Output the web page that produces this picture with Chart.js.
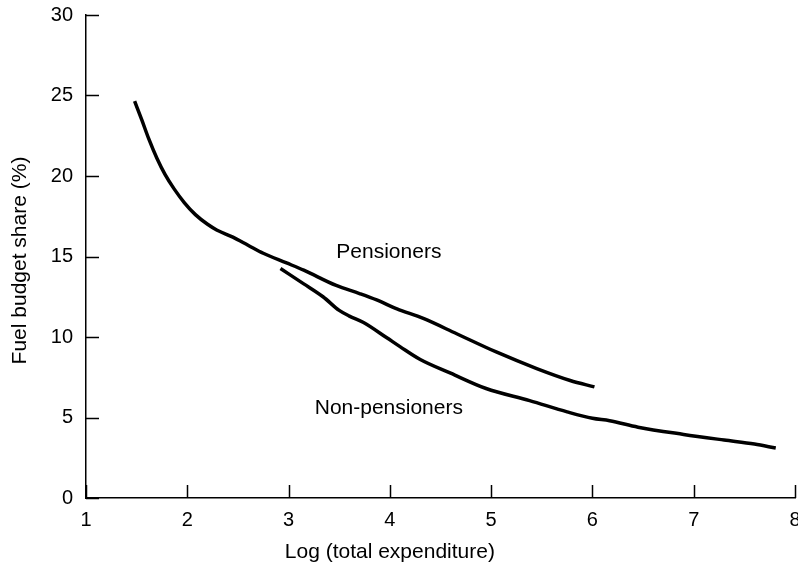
<!DOCTYPE html>
<html>
<head>
<meta charset="utf-8">
<script src="https://cdn.jsdelivr.net/npm/chart.js@4/dist/chart.umd.min.js"></script>
<style>
  html, body { margin: 0; padding: 0; background: #fff; overflow: hidden; }
  #wrap { position: relative; width: 798px; height: 566px; }
</style>
</head>
<body>
<div id="wrap"><canvas id="chart"></canvas></div>
<script>
// Fuel budget share (%) against log of total expenditure
const pensionerX = [1.48, 1.55, 1.62, 1.7, 1.78, 1.87, 1.97, 2.08, 2.2, 2.29, 2.45, 2.6, 2.75, 2.98, 3.15, 3.47, 3.7, 3.87, 4.07, 4.33, 4.66, 5.05, 5.45, 5.78, 6.02];
const pensionerY = [24.65, 23.5, 22.3, 21.1, 20.1, 19.2, 18.35, 17.6, 17.0, 16.65, 16.2, 15.7, 15.2, 14.6, 14.15, 13.2, 12.7, 12.3, 11.75, 11.15, 10.2, 9.07, 8.04, 7.3, 6.9];

const nonPensionerX = [2.92, 3.15, 3.34, 3.5, 3.6, 3.74, 3.97, 4.1, 4.3, 4.6, 4.95, 5.38, 5.75, 6.0, 6.17, 6.45, 6.9, 7.3, 7.6, 7.81];
const nonPensionerY = [14.25, 13.3, 12.5, 11.65, 11.3, 10.9, 9.95, 9.4, 8.6, 7.75, 6.8, 6.05, 5.35, 4.95, 4.8, 4.4, 3.95, 3.6, 3.35, 3.1];

const xTicks = [1, 2, 3, 4, 5, 6, 7, 8];
const yTicks = [0, 5, 10, 15, 20, 25, 30];

const xTitle = 'Log (total expenditure)';
const yTitle = 'Fuel budget share (%)';
const curveLabels = [
  { text: 'Pensioners', x: 3.99, y: 15.25 },
  { text: 'Non-pensioners', x: 3.99, y: 5.55 }
];

const toPoints = (xs, ys) => xs.map((x, i) => ({ x: x, y: ys[i] }));

// ticks point into the plot, axis titles and curve names drawn on top
const extras = {
  id: 'extras',
  afterDraw(chart) {
    const { ctx, chartArea, scales: { x, y } } = chart;
    ctx.save();
    ctx.strokeStyle = '#000';
    ctx.lineWidth = 1.5;
    ctx.beginPath();
    x.ticks.forEach(t => {
      const px = Math.round(x.getPixelForValue(t.value)) + 0.5;
      ctx.moveTo(px, chartArea.bottom);
      ctx.lineTo(px, chartArea.bottom - 13);
    });
    y.ticks.forEach(t => {
      const py = Math.round(y.getPixelForValue(t.value)) + 0.5;
      ctx.moveTo(chartArea.left, py);
      ctx.lineTo(chartArea.left + 13, py);
    });
    ctx.stroke();

    ctx.fillStyle = '#000';
    ctx.textAlign = 'center';
    ctx.textBaseline = 'middle';
    ctx.font = '21px "Liberation Sans", Arial, sans-serif';
    curveLabels.forEach(l => {
      ctx.fillText(l.text, x.getPixelForValue(l.x), y.getPixelForValue(l.y));
    });
    ctx.fillText(xTitle, x.getPixelForValue(4), chartArea.bottom + 54);

    ctx.translate(20, (chartArea.top + chartArea.bottom) / 2 + 4);
    ctx.rotate(-Math.PI / 2);
    ctx.fillText(yTitle, 0, 0);
    ctx.restore();
  }
};

const tickFont = { family: '"Liberation Sans", Arial, sans-serif', size: 20 };

new Chart(document.getElementById('chart'), {
  type: 'line',
  data: {
    datasets: [
      {
        label: 'Pensioners',
        data: toPoints(pensionerX, pensionerY),
        borderColor: '#000',
        borderWidth: 3.5,
        pointRadius: 0,
        fill: false,
        cubicInterpolationMode: 'monotone'
      },
      {
        label: 'Non-pensioners',
        data: toPoints(nonPensionerX, nonPensionerY),
        borderColor: '#000',
        borderWidth: 3.5,
        pointRadius: 0,
        fill: false,
        cubicInterpolationMode: 'monotone'
      }
    ]
  },
  options: {
    responsive: true,
    maintainAspectRatio: false,
    animation: false,
    layout: { padding: { top: 15, right: 3, bottom: 0, left: 0 } },
    plugins: { legend: { display: false }, tooltip: { enabled: false } },
    scales: {
      x: {
        type: 'linear',
        min: 1,
        max: 8,
        afterBuildTicks: s => { s.ticks = xTicks.map(v => ({ value: v })); },
        afterFit: s => { s.height = 68; s.paddingLeft = 0; s.paddingRight = 0; },
        grid: { display: false, drawTicks: false },
        border: { display: true, color: '#000', width: 1.5 },
        ticks: { color: '#000', font: tickFont, padding: 10, maxRotation: 0, autoSkip: false }
      },
      y: {
        type: 'linear',
        min: 0,
        max: 30,
        afterBuildTicks: s => { s.ticks = yTicks.map(v => ({ value: v })); },
        afterFit: s => { s.width = 86; s.paddingTop = 0; s.paddingBottom = 0; },
        grid: { display: false, drawTicks: false },
        border: { display: true, color: '#000', width: 1.5 },
        ticks: { color: '#000', font: tickFont, padding: 13, autoSkip: false }
      }
    }
  },
  plugins: [extras]
});
</script>
</body>
</html>
